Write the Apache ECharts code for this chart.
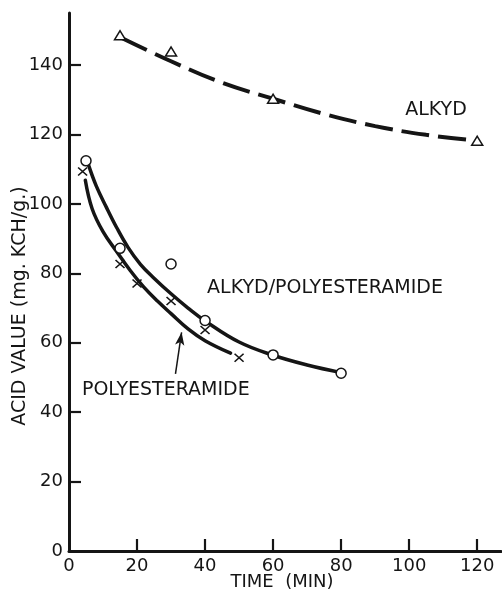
<!DOCTYPE html>
<html>
<head>
<meta charset="utf-8">
<script src="https://cdn.jsdelivr.net/npm/echarts@6/dist/echarts.min.js"></script>
<style>
  html, body { margin: 0; padding: 0; background: #fff; }
  #chart { width: 502px; height: 592px; }
</style>
</head>
<body>
<div id="chart"></div>
<script>
// Acid value (mg. KCH/g.) versus time (min)

// Alkyd: measured points (triangles) and hand-fitted trend (dashed)
const alkydPoints = [[15, 148.6], [30, 143.9], [60, 130.3], [120, 118.2]];
const alkydCurve = [[15.5, 147.8], [30, 141.1], [45, 134.9], [60, 130.3], [75, 125.9], [90, 122.4], [105, 119.9], [120, 118.2]];

// Alkyd/polyesteramide: measured points (circles) and fitted trend
const blendPoints = [[5, 112.4], [15, 87.2], [30, 82.7], [40, 66.4], [60, 56.5], [80, 51.2]];
const blendCurve = [[5.7, 111.3], [8, 105.2], [11, 99.0], [14, 93.2], [17.4, 87.4], [21, 82.6], [25, 78.6], [30, 74.1], [35, 70.0], [40, 66.3], [50, 60.2], [60, 56.4], [70, 53.6], [80, 51.4]];

// Polyesteramide: measured points (crosses) and fitted trend
const polyPoints = [[4, 109.3], [15, 82.7], [20, 77.1], [30, 72.0], [40, 63.7], [50, 55.7]];
const polyCurve = [[4.8, 106.8], [6.8, 98.6], [10, 92.0], [14, 86.3], [18, 80.8], [22, 76.0], [26, 72.0], [30, 68.4], [35, 64.0], [40, 60.6], [47.5, 57.0]];

// Axis ticks and labels
const xTicks = [20, 40, 60, 80, 100, 120];
const xLabels = [0, 20, 40, 60, 80, 100, 120];
const yTicks = [20, 40, 60, 80, 100, 120, 140];
const yLabels = [0, 20, 40, 60, 80, 100, 120, 140];

// Curve labels, anchored in data units
const curveLabels = [
  { text: 'ALKYD', at: [107.9, 127.1], align: 'center' },
  { text: 'ALKYD/POLYESTERAMIDE', at: [40.6, 75.8], align: 'left' },
  { text: 'POLYESTERAMIDE', at: [3.8, 46.4], align: 'left' }
];
// Pointer from the POLYESTERAMIDE label to its curve
const pointerFrom = [31.3, 51.0];
const pointerTo = [33.1, 63.0];

const INK = '#151515';
const FONT = '"DejaVu Sans", sans-serif';

const chart = echarts.init(document.getElementById('chart'), null, { renderer: 'canvas' });

const markStyle = { color: '#fff', borderColor: INK, borderWidth: 1.5, opacity: 1 };

chart.setOption({
  animation: false,
  backgroundColor: '#fff',
  grid: { left: 69, right: 1, top: 13, bottom: 41, containLabel: false },
  xAxis: {
    type: 'value', min: 0, max: 127, interval: 20,
    axisLine: { show: true, onZero: false, lineStyle: { color: INK, width: 3 } },
    axisTick: { show: true, inside: true, length: 12, customValues: xTicks, lineStyle: { color: INK, width: 2.2 } },
    axisLabel: { customValues: xLabels, fontSize: 18, fontFamily: FONT, color: INK, margin: 6 },
    splitLine: { show: false }
  },
  yAxis: {
    type: 'value', min: 0, max: 155, interval: 20,
    axisLine: { show: true, onZero: false, lineStyle: { color: INK, width: 3 } },
    axisTick: { show: true, inside: true, length: 12, customValues: yTicks, lineStyle: { color: INK, width: 2.2 } },
    axisLabel: { customValues: yLabels, fontSize: 18, fontFamily: FONT, color: INK, margin: 6 },
    splitLine: { show: false }
  },
  series: [
    {
      name: 'Alkyd trend', type: 'line', data: alkydCurve, smooth: 0.4, showSymbol: false,
      lineStyle: { color: INK, width: 4, type: [28, 9], cap: 'butt' }, z: 2
    },
    {
      name: 'Alkyd/polyesteramide trend', type: 'line', data: blendCurve, smooth: 0.4, showSymbol: false,
      lineStyle: { color: INK, width: 3.5, cap: 'round' }, z: 2
    },
    {
      name: 'Polyesteramide trend', type: 'line', data: polyCurve, smooth: 0.4, showSymbol: false,
      lineStyle: { color: INK, width: 3.5, cap: 'round' }, z: 2,
      markLine: {
        silent: true, symbol: ['none', 'arrow'], symbolSize: [7, 13], label: { show: false },
        lineStyle: { color: INK, width: 1.5, type: 'solid' },
        data: [[{ coord: pointerFrom }, { coord: pointerTo }]]
      }
    },
    {
      name: 'Alkyd', type: 'scatter', data: alkydPoints, symbol: 'triangle', symbolSize: [11, 9],
      itemStyle: markStyle, z: 5
    },
    {
      name: 'Alkyd/polyesteramide', type: 'scatter', data: blendPoints, symbol: 'circle', symbolSize: 10,
      itemStyle: markStyle, z: 5
    },
    {
      name: 'Polyesteramide', type: 'scatter', data: polyPoints, symbol: 'path://M0,0L10,9M10,0L0,9', symbolSize: [9, 8],
      itemStyle: markStyle, z: 5
    }
  ]
});

// Axis titles and curve labels
const graphics = [
  {
    type: 'text', x: 282, y: 582, z: 10,
    style: { text: 'TIME  (MIN)', font: '18px ' + FONT, fill: INK, align: 'center', verticalAlign: 'middle' }
  },
  {
    type: 'text', x: 20, y: 306, rotation: Math.PI / 2, z: 10,
    style: { text: 'ACID VALUE (mg. KCH/g.)', font: '19px ' + FONT, fill: INK, align: 'center', verticalAlign: 'middle' }
  }
];
curveLabels.forEach(function (l) {
  const p = chart.convertToPixel({ gridIndex: 0 }, l.at);
  graphics.push({
    type: 'text', x: p[0], y: p[1], z: 10,
    style: { text: l.text, font: '19px ' + FONT, fill: INK, align: l.align, verticalAlign: 'middle' }
  });
});
chart.setOption({ graphic: graphics });
</script>
</body>
</html>
